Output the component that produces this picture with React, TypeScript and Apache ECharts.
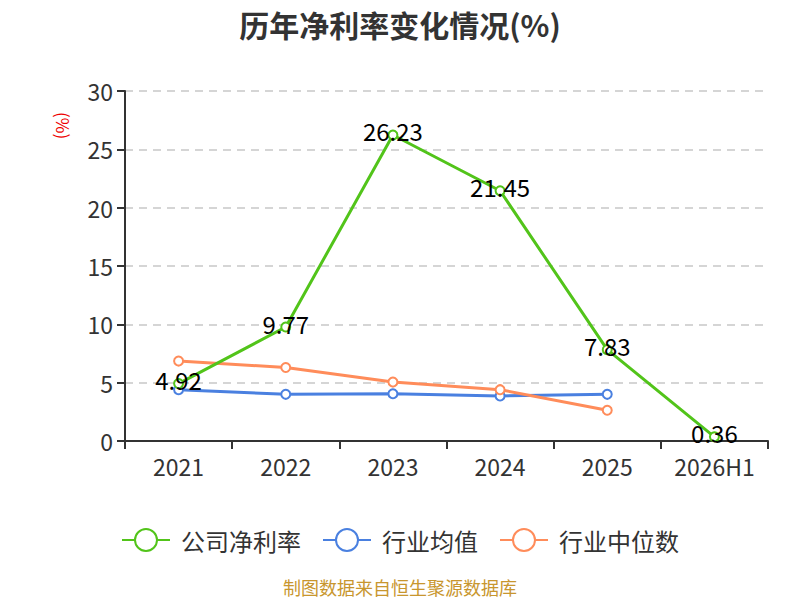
import React, { useEffect, useRef } from "react";
import * as echarts from "echarts";

const categories = ["2021", "2022", "2023", "2024", "2025", "2026H1"];
const companyValues = [4.92, 9.77, 26.23, 21.45, 7.83, 0.36];
const industryAvg = [4.4, 4.0, 4.05, 3.86, 4.0];
const industryMedian = [6.85, 6.3, 5.05, 4.4, 2.63];
const seriesNames = ["公司净利率", "行业均值", "行业中位数"];

const FONT = "'Noto Sans CJK SC', 'Noto Sans', sans-serif";

export default function App() {
  const ref = useRef<HTMLDivElement>(null);
  useEffect(() => {
    if (!ref.current) return;
    const chart = echarts.init(ref.current, null, { renderer: "svg" });
    const mk = (name: string, data: number[], color: string, label: boolean) => ({
      name,
      type: "line",
      data,
      symbol: "circle",
      symbolSize: 9,
      showAllSymbol: true,
      itemStyle: { color: "#fff", borderColor: color, borderWidth: 2 },
      lineStyle: { color, width: 3 },
      label: label
        ? {
            show: true,
            position: "inside",
            offset: [0, -4],
            color: "#000",
            fontSize: 24,
            fontFamily: FONT,
          }
        : { show: false },
      z: label ? 3 : 2,
    });
    chart.setOption({
      animation: false,
      textStyle: { fontFamily: FONT },
      title: {
        text: "历年净利率变化情况(%)",
        left: "center",
        top: 4,
        textStyle: { fontSize: 30, fontWeight: "bold", color: "#333", fontFamily: FONT },
      },
      grid: { left: 125, right: 32, top: 91, bottom: 159, containLabel: false },
      legend: {
        top: 523,
        left: "center",
        itemWidth: 48,
        itemHeight: 22,
        itemGap: 21,
        textStyle: { fontSize: 24, color: "#333", fontFamily: FONT, padding: [0, 0, 0, 6] },
        data: seriesNames.map((n) => ({
          name: n,
          icon: "path://M0,12 L13,12 M35,12 L48,12 M35,12 A11,11 0 1,1 13,12 A11,11 0 1,1 35,12",
        })),
      },
      xAxis: {
        type: "category",
        data: categories,
        boundaryGap: true,
        axisLine: { lineStyle: { color: "#333", width: 2 } },
        axisTick: { show: true, length: 8, lineStyle: { color: "#333", width: 2 } },
        axisLabel: { fontSize: 23, color: "#333", margin: 13, fontFamily: FONT },
      },
      yAxis: {
        type: "value",
        min: 0,
        max: 30,
        interval: 5,
        axisLine: { show: true, lineStyle: { color: "#333", width: 2 } },
        axisTick: { show: true, length: 8, lineStyle: { color: "#333", width: 2 } },
        axisLabel: { fontSize: 23, color: "#333", margin: 12, fontFamily: FONT },
        splitLine: { lineStyle: { color: "#c8c8c8", type: [8, 6], width: 1.5 } },
      },
      graphic: [
        {
          type: "text",
          x: 72,
          y: 112,
          rotation: -Math.PI / 2,
          style: { text: "(%)", fill: "#e00", fontSize: 17, fontFamily: FONT },
        },
        {
          type: "text",
          left: "center",
          top: 578,
          style: { text: "制图数据来自恒生聚源数据库", fill: "#c8962e", fontSize: 18, fontFamily: FONT },
        },
      ],
      series: [
        mk(seriesNames[0], companyValues, "#52c41a", true),
        mk(seriesNames[1], industryAvg, "#4a80e0", false),
        mk(seriesNames[2], industryMedian, "#ff8c5a", false),
      ],
    });
    return () => chart.dispose();
  }, []);
  return (
    <div
      ref={ref}
      style={{ position: "absolute", left: 0, top: 0, width: 800, height: 600 }}
    />
  );
}
